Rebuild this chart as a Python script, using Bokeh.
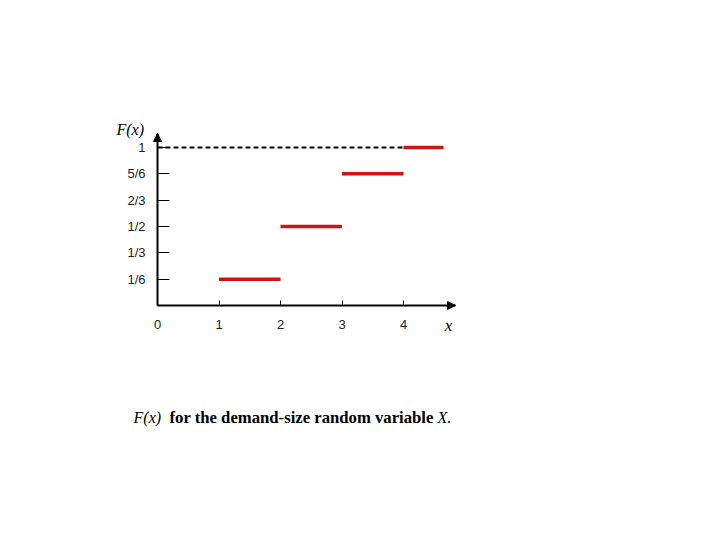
from bokeh.plotting import figure
from bokeh.models import Range1d, Label, Arrow, NormalHead, FixedTicker
from bokeh.embed import file_html
from bokeh.resources import INLINE

# data: step CDF of demand size
step_starts = [1, 2, 3, 4]
step_ends = [2, 3, 4, 4.65]
cdf_values = [1/6, 1/2, 5/6, 1]

y_ticks = [1/6, 1/3, 1/2, 2/3, 5/6, 1]
y_tick_labels = ["1/6", "1/3", "1/2", "2/3", "5/6", "1"]
x_ticks = [0, 1, 2, 3, 4]
x_tick_labels = ["0", "1", "2", "3", "4"]

# axis extents (arrow tips) in data units
X_MAX = 4.846
Y_MAX = 1.0886

# the frame covers the whole canvas; axes sit at the origin
p = figure(frame_width=704, frame_height=524,
           min_border_left=0, min_border_top=0,
           min_border_right=0, min_border_bottom=0,
           x_range=Range1d(-2.553, 8.894), y_range=Range1d(-1.386, 1.930),
           output_backend="svg", toolbar_location=None)
p.outline_line_color = None
p.xgrid.visible = False
p.ygrid.visible = False
p.background_fill_color = "white"
p.border_fill_color = "white"

for ax in (p.xaxis[0], p.yaxis[0]):
    ax.fixed_location = 0
    ax.axis_line_width = 2
    ax.axis_line_color = "black"
    ax.major_tick_line_color = "black"
    ax.major_tick_line_width = 1
    ax.major_tick_out = 0
    ax.minor_tick_line_color = None
    ax.major_label_text_font = "Liberation Sans"
    ax.major_label_text_font_size = "13px"
    ax.major_label_text_color = "#222222"

p.yaxis.bounds = (0, Y_MAX)
p.yaxis.ticker = FixedTicker(ticks=y_ticks)
p.yaxis.major_label_overrides = {t: s for t, s in zip(y_ticks, y_tick_labels)}
p.yaxis.major_tick_in = 12
p.yaxis.major_label_standoff = 12
p.yaxis.major_label_text_align = "center"

p.xaxis.bounds = (0, X_MAX)
p.xaxis.ticker = FixedTicker(ticks=x_ticks)
p.xaxis.major_label_overrides = {t: s for t, s in zip(x_ticks, x_tick_labels)}
p.xaxis.major_tick_in = 5
p.xaxis.major_label_standoff = 15

# dashed guide at F = 1
p.line([0, step_starts[-1]], [cdf_values[-1], cdf_values[-1]],
       line_color="black", line_width=2, line_dash="5 3")

# red steps
p.segment(x0=step_starts, y0=cdf_values, x1=step_ends, y1=cdf_values,
          line_color="#d01414", line_width=3.5)

# arrowheads on axes
p.add_layout(Arrow(end=NormalHead(size=8, fill_color="black", line_color="black"),
                   x_start=X_MAX - 0.05, y_start=0, x_end=X_MAX, y_end=0,
                   line_color="black", line_width=2))
p.add_layout(Arrow(end=NormalHead(size=8, fill_color="black", line_color="black"),
                   x_start=0, y_start=Y_MAX - 0.03, x_end=0, y_end=Y_MAX,
                   line_color="black", line_width=2))

serif = "Liberation Serif"
p.add_layout(Label(x=-0.667, y=1.114, text="F(x)", text_font=serif,
                   text_font_style="italic", text_font_size="16px",
                   text_color="black",
                   text_baseline="middle", text_align="left"))
p.add_layout(Label(x=4.73, y=-0.127, text="x", text_font=serif,
                   text_font_style="italic", text_font_size="17px",
                   text_color="black",
                   text_baseline="middle", text_align="center"))

cap_y = -0.709
p.add_layout(Label(x=-0.390, y=cap_y, text="F(x)", text_font=serif,
                   text_font_style="italic", text_font_size="16px",
                   text_color="black",
                   text_baseline="middle", text_align="left"))
p.add_layout(Label(x=0.195, y=cap_y, text="for the demand-size random variable",
                   text_font=serif, text_font_size="16.7px", text_font_style="bold",
                   text_color="black",
                   text_baseline="middle", text_align="left"))
p.add_layout(Label(x=4.553, y=cap_y, text="X.", text_font=serif,
                   text_font_style="italic", text_font_size="16px",
                   text_color="black",
                   text_baseline="middle", text_align="left"))

open("out.html", "w").write(file_html(p, INLINE))
